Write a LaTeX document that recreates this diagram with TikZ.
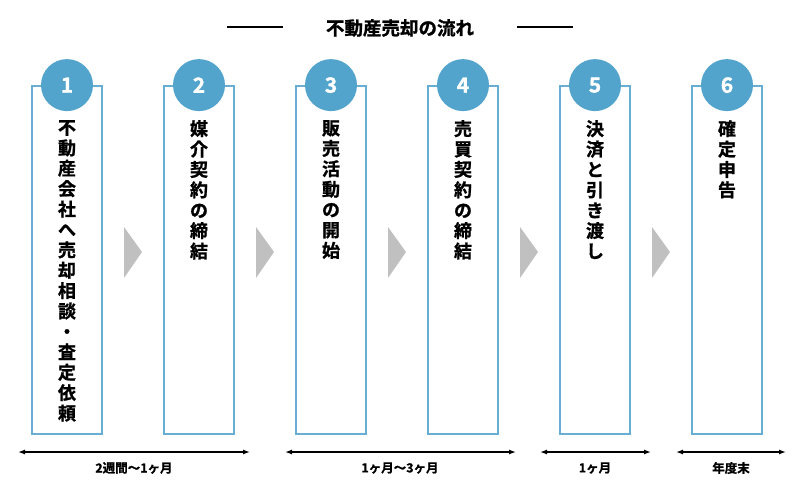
\documentclass[tikz,border=0pt]{standalone}
\usepackage{fontspec}
\setmainfont{Noto Sans CJK JP}[BoldFont={Noto Sans CJK JP Bold}, BoldFeatures={FakeBold=1.2}]
\usepackage{tikz}
\usetikzlibrary{arrows.meta, positioning}
\definecolor{stepblue}{RGB}{82, 164, 205}
\definecolor{frameblue}{RGB}{104, 174, 212}
\definecolor{pointgray}{RGB}{192, 192, 192}

\begin{document}
\begin{tikzpicture}[
      x=1pt, y=-1pt,
      every node/.style={font=\bfseries},
      frame/.style={draw=frameblue, line width=1.8pt, fill=white,
                    minimum width=70pt, minimum height=348pt, inner sep=0pt},
      num/.style={circle, fill=stepblue, minimum size=52pt, inner sep=0pt,
                  text=white, font=\fontsize{21}{21}\selectfont\bfseries},
      vtxt/.style={anchor=north, align=center, inner sep=0pt,
                   font=\fontsize{18}{20.4}\selectfont\bfseries},
      span/.style={{Latex[length=7pt,width=5pt]}-{Latex[length=7pt,width=5pt]}, line width=1.3pt},
      spanlbl/.style={font=\fontsize{12.5}{13}\selectfont\bfseries},
      pointer/.style={fill=pointgray}
    ]
      \useasboundingbox (0,0) rectangle (800,499);

      % title
      \node[font=\fontsize{18.5}{19}\selectfont\bfseries] (title) at (400,28) {不動産売却の流れ};
      \coordinate (tl) at (227,27);
      \coordinate (tr) at (573,27);
      \draw[line width=1.3pt] (tl) -- ++(56,0);
      \draw[line width=1.3pt] (tr) -- ++(-56,0);

      % frames
      \node[frame] (box1) at (67,260)  {};
      \node[frame] (box2) at (199,260) {};
      \node[frame] (box3) at (331,260) {};
      \node[frame] (box4) at (463,260) {};
      \node[frame] (box5) at (595,260) {};
      \node[frame] (box6) at (727,260) {};

      % numbers
      \node[num] (num1) at (box1.north) {1};
      \node[num] (num2) at (box2.north) {2};
      \node[num] (num3) at (box3.north) {3};
      \node[num] (num4) at (box4.north) {4};
      \node[num] (num5) at (box5.north) {5};
      \node[num] (num6) at (box6.north) {6};

      % step texts
      \node[vtxt] (txt1) at (67,120)  {不\\動\\産\\会\\社\\へ\\売\\却\\相\\談\\・\\査\\定\\依\\頼};
      \node[vtxt] (txt2) at (199,120) {媒\\介\\契\\約\\の\\締\\結};
      \node[vtxt] (txt3) at (331,120) {販\\売\\活\\動\\の\\開\\始};
      \node[vtxt] (txt4) at (463,120) {売\\買\\契\\約\\の\\締\\結};
      \node[vtxt] (txt5) at (595,120) {決\\済\\と\\引\\き\\渡\\し};
      \node[vtxt] (txt6) at (727,120) {確\\定\\申\\告};

      % grey pointers
      \fill[pointer] (124,227) -- (142,252) -- (124,278) -- cycle;
      \fill[pointer] (256,227) -- (274,252) -- (256,278) -- cycle;
      \fill[pointer] (388,227) -- (406,252) -- (388,278) -- cycle;
      \fill[pointer] (520,227) -- (538,252) -- (520,278) -- cycle;
      \fill[pointer] (652,227) -- (670,252) -- (652,278) -- cycle;

      % periods
      \coordinate (s1a) at (18,452);  \coordinate (s1b) at (250,452);
      \coordinate (s2a) at (285,452); \coordinate (s2b) at (516,452);
      \coordinate (s3a) at (540,452); \coordinate (s3b) at (651,452);
      \coordinate (s4a) at (676,452); \coordinate (s4b) at (786,452);
      \draw[span] (s1a) -- (s1b);
      \draw[span] (s2a) -- (s2b);
      \draw[span] (s3a) -- (s3b);
      \draw[span] (s4a) -- (s4b);
      \node[spanlbl] (per1) at (134,468) {2週間〜1ヶ月};
      \node[spanlbl] (per2) at (400,468) {1ヶ月〜3ヶ月};
      \node[spanlbl] (per3) at (595,468) {1ヶ月};
      \node[spanlbl] (per4) at (731,468) {年度末};
    \end{tikzpicture}
\end{document}
